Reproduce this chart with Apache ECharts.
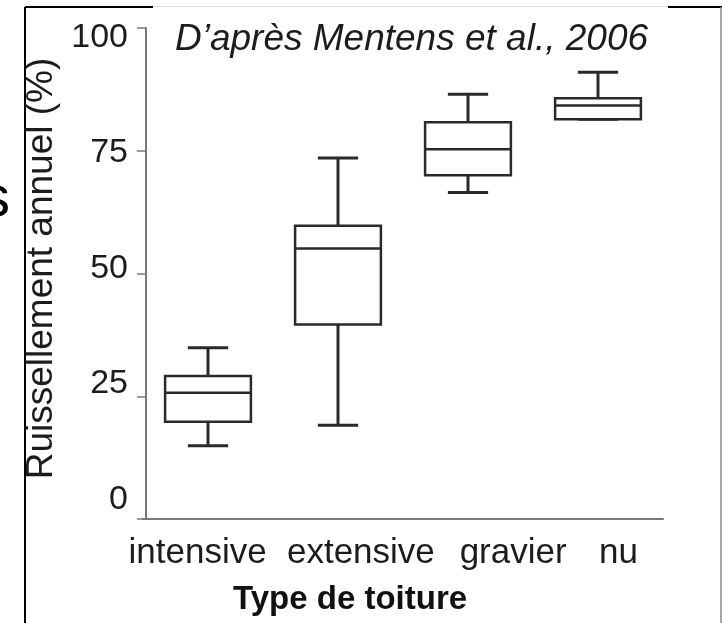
<!DOCTYPE html>
<html>
<head>
<meta charset="utf-8">
<title>Ruissellement annuel</title>
<script src="https://cdn.jsdelivr.net/npm/echarts@6/dist/echarts.min.js"></script>
<style>
  html, body { margin: 0; padding: 0; background: #fff; }
  #chart { width: 722px; height: 623px; }
</style>
</head>
<body>
<div id="chart"></div>
<script>
  var categories = ['intensive', 'extensive', 'gravier', 'nu'];
  var lowWhisker = [14.9, 19.1, 66.5, 81.4];
  var q1 = [19.8, 39.6, 70.0, 81.4];
  var median = [25.7, 55.1, 75.3, 84.2];
  var q3 = [29.1, 59.7, 80.8, 85.7];
  var highWhisker = [34.9, 73.5, 86.5, 91.0];
  var yMin = 0, yMax = 100, yStep = 25;

  var font = '"Liberation Sans", Arial, "DejaVu Sans", sans-serif';
  var axisGray = '#7a7a7a';
  var ink = '#1c1c1c';
  var boxInk = '#2a2a2a';
  // the labels in the source are not centred under their boxes
  var labelNudge = [-13, 9, 20, -16];

  var boxData = categories.map(function (c, i) {
    return [i, lowWhisker[i], q1[i], median[i], q3[i], highWhisker[i]];
  });

  var labelData = categories.map(function (c, i) {
    var n = labelNudge[i];
    return { value: c, textStyle: { padding: n < 0 ? [0, -2 * n, 0, 0] : [0, 0, 0, 2 * n] } };
  });

  // box + whiskers, caps narrower than the box as in the source figure
  function renderBox(params, api) {
    var i = api.value(0);
    var band = api.size([1, 0])[0];
    var half = band * 0.33;
    var cap = band * 0.155;
    var pLow = api.coord([i, api.value(1)]);
    var pQ1 = api.coord([i, api.value(2)]);
    var pMed = api.coord([i, api.value(3)]);
    var pQ3 = api.coord([i, api.value(4)]);
    var pHigh = api.coord([i, api.value(5)]);
    var x = pQ1[0];
    var thick = { stroke: boxInk, lineWidth: 3 };
    return {
      type: 'group',
      children: [
        { type: 'line', shape: { x1: x, y1: pHigh[1], x2: x, y2: pQ3[1] }, style: thick },
        { type: 'line', shape: { x1: x, y1: pQ1[1], x2: x, y2: pLow[1] }, style: thick },
        { type: 'line', shape: { x1: x - cap, y1: pHigh[1], x2: x + cap, y2: pHigh[1] }, style: thick },
        { type: 'line', shape: { x1: x - cap, y1: pLow[1], x2: x + cap, y2: pLow[1] }, style: thick },
        { type: 'rect', shape: { x: x - half, y: pQ3[1], width: half * 2, height: pQ1[1] - pQ3[1] },
          style: { stroke: boxInk, lineWidth: 2.5, fill: '#fff' } },
        { type: 'line', shape: { x1: x - half, y1: pMed[1], x2: x + half, y2: pMed[1] }, style: { stroke: boxInk, lineWidth: 2.5 } }
      ]
    };
  }

  var chart = echarts.init(document.getElementById('chart'));
  chart.setOption({
    animation: false,
    backgroundColor: '#fff',
    title: [{
      text: 'D\u2019après Mentens et al., 2006',
      left: 175,
      top: 21,
      padding: 0,
      textStyle: { fontFamily: font, fontSize: 37, fontStyle: 'italic', fontWeight: 'normal', color: ink }
    }, {
      text: 'Type de toiture',
      left: 233,
      top: 583,
      padding: 0,
      textStyle: { fontFamily: font, fontSize: 33, fontWeight: 'bold', color: '#111' }
    }],
    grid: [
      { left: 143, right: 59, top: 28, bottom: 104 },   // boxes
      { left: 140, right: 17, top: 37.5, bottom: 123.5 } // tick labels
    ],
    xAxis: [{
      type: 'category',
      gridIndex: 0,
      data: categories,
      offset: 3,
      axisLine: { lineStyle: { color: axisGray, width: 2 } },
      axisTick: { alignWithLabel: true, interval: 0, length: 4, lineStyle: { color: '#aaa' } },
      axisLabel: { show: false },
      splitLine: { show: false }
    }, {
      type: 'category',
      gridIndex: 1,
      data: labelData,
      axisLine: { show: false },
      axisTick: { show: false },
      axisLabel: { interval: 0, margin: 36, fontFamily: font, fontSize: 35, color: ink },
      splitLine: { show: false }
    }],
    yAxis: [{
      type: 'value',
      gridIndex: 0,
      min: yMin, max: yMax, interval: yStep,
      offset: -3,
      axisLine: { show: true, lineStyle: { color: axisGray, width: 2 } },
      axisTick: { show: true, length: 9, lineStyle: { color: axisGray, width: 1.5 } },
      axisLabel: { show: false },
      splitLine: { show: false }
    }, {
      type: 'value',
      gridIndex: 1,
      min: yMin, max: yMax, interval: yStep,
      name: 'Ruissellement annuel (%)',
      nameLocation: 'middle',
      nameGap: 69,
      nameTextStyle: { fontFamily: font, fontSize: 37, color: ink },
      axisLine: { show: false },
      axisTick: { show: false },
      axisLabel: { margin: 12, fontFamily: font, fontSize: 34, color: ink },
      splitLine: { show: false }
    }],
    series: [{
      type: 'custom',
      xAxisIndex: 0,
      yAxisIndex: 0,
      data: boxData,
      encode: { x: 0, y: [1, 2, 3, 4, 5] },
      renderItem: renderBox,
      silent: true
    }],
    graphic: [
      { type: 'line', shape: { x1: 25, y1: 7, x2: 25, y2: 623 }, style: { stroke: '#000', lineWidth: 2 } },
      { type: 'line', shape: { x1: 25, y1: 7, x2: 153, y2: 7 }, style: { stroke: '#000', lineWidth: 2 } },
      { type: 'line', shape: { x1: 153, y1: 6.5, x2: 668, y2: 6.5 }, style: { stroke: '#e2e2e2', lineWidth: 1 } },
      { type: 'line', shape: { x1: 668, y1: 7, x2: 722, y2: 7 }, style: { stroke: '#000', lineWidth: 2 } },
      { type: 'line', shape: { x1: 721, y1: 7, x2: 721, y2: 623 }, style: { stroke: '#8a8a8a', lineWidth: 1.5 } },
      { type: 'text', style: { text: 's', x: 10, y: 200, align: 'right', verticalAlign: 'middle', font: '58px ' + font, fill: '#000' } }
    ]
  });
</script>
</body>
</html>
